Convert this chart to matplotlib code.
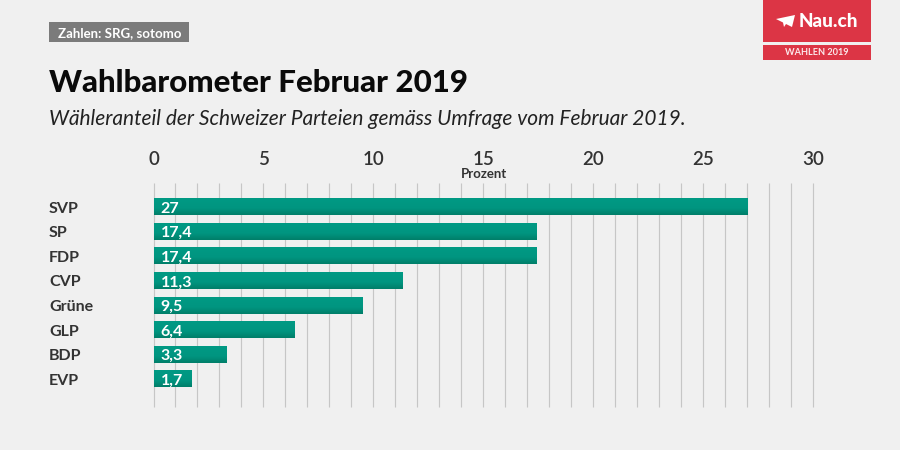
import numpy as np
import matplotlib
matplotlib.use('Agg')
import matplotlib.pyplot as plt
from matplotlib.colors import LinearSegmentedColormap
from matplotlib.patches import Rectangle, Polygon

plt.rcParams['font.family'] = ['Lato', 'DejaVu Sans']

parties = ['SVP', 'SP', 'FDP', 'CVP', 'Grüne', 'GLP', 'BDP', 'EVP']
values = [27, 17.4, 17.4, 11.3, 9.5, 6.4, 3.3, 1.7]
value_labels = ['27', '17,4', '17,4', '11,3', '9,5', '6,4', '3,3', '1,7']
major_ticks = [0, 5, 10, 15, 20, 25, 30]

W, H = 900, 450
BG = '#f0f0f0'


# pixel helpers, origin top left like the reference
def fx(px):
    return px / W


def fy(py):
    return 1 - py / H


fig = plt.figure(figsize=(9, 4.5), dpi=100, facecolor=BG)

# ===== chart =====
left, right, top, bottom = 153.5, 813, 183, 407
ax = fig.add_axes([fx(left), fy(bottom), (right - left) / W, (bottom - top) / H])
ax.set_facecolor('none')

for s in ax.spines.values():
    s.set_visible(False)

# grid line every 1 percent; not clipped so the line at 30 stays visible
ax.vlines(np.arange(0, 31, 1), 0, 1, transform=ax.get_xaxis_transform(),
          color='#c6c6c6', linewidth=0.85, zorder=1, clip_on=False)
ax.tick_params(axis='y', length=0, pad=0)

ax.set_xticks(major_ticks)
ax.xaxis.tick_top()
ax.tick_params(axis='x', which='major', length=0, pad=11, labelsize=13.5, labelcolor='#333333')
for lab in ax.get_xticklabels():
    lab.set_fontweight('semibold')

ax.set_yticks(range(len(parties)))
ax.set_yticklabels([])

# bars with light top / dark bottom fade
bar_cmap = LinearSegmentedColormap.from_list(
    'bar', [(0, '#009a84'), (0.6, '#009580'), (1, '#007f6a')])
grad = np.linspace(0, 1, 32).reshape(-1, 1)
bar_h = 0.67
for i, (v, lab) in enumerate(zip(values, value_labels)):
    ax.imshow(grad, extent=(0, v, i + bar_h / 2, i - bar_h / 2),
              cmap=bar_cmap, aspect='auto', zorder=3, interpolation='bilinear')
    ax.text(0.33, i, lab, color='white', fontsize=11.5, fontweight='bold',
            va='center_baseline', ha='left', zorder=4)
    ax.annotate(parties[i], xy=(0, i), xycoords=('axes fraction', 'data'),
                xytext=(49 - left, 0), textcoords='offset pixels',
                fontsize=11.5, fontweight='bold', color='#333333',
                va='center_baseline', ha='left')
ax.set_xlim(0, 30)
ax.set_ylim(8.13, -0.976)

fig.text(fx(483.5), fy(173.5), 'Prozent', fontsize=9.5, fontweight='bold', color='#333333',
         ha='center', va='center')

# ===== header =====
fig.patches.append(Rectangle((fx(49), fy(42)), 140 / W, 20 / H, transform=fig.transFigure,
                             facecolor='#7b7b7b', edgecolor='none'))
fig.text(fx(58), fy(33), 'Zahlen: SRG, sotomo', fontsize=9.5, fontweight='bold', color='white',
         ha='left', va='center')
fig.text(fx(49), fy(83), 'Wahlbarometer Februar 2019', fontsize=22.5, fontweight='black',
         color='#0a0a0a', ha='left', va='center')
fig.text(fx(49), fy(119), 'Wähleranteil der Schweizer Parteien gemäss Umfrage vom Februar 2019.',
         fontsize=15, style='italic', color='#222222', ha='left', va='center')

# ===== logo =====
RED = '#dc3545'
fig.patches.append(Rectangle((fx(763), fy(42)), 108 / W, 42 / H, transform=fig.transFigure,
                             facecolor=RED, edgecolor='none'))
fig.patches.append(Rectangle((fx(763), fy(60)), 108 / W, 15 / H, transform=fig.transFigure,
                             facecolor=RED, edgecolor='none'))
plane = [(776, 19), (795, 15), (792, 27), (786, 24), (784, 27), (783, 22.5)]
fig.patches.append(Polygon([(fx(x), fy(y)) for x, y in plane], closed=True,
                           transform=fig.transFigure, facecolor='white', edgecolor='none'))
fig.text(fx(799), fy(21.5), 'Nau.ch', fontsize=13.6, fontweight='black', color='white',
         ha='left', va='center')
fig.text(fx(817), fy(52.5), 'WAHLEN 2019', fontsize=6.6, fontweight='bold', color='#fbe9eb',
         ha='center', va='center')

fig.savefig('out.png', dpi=100, facecolor=BG)
